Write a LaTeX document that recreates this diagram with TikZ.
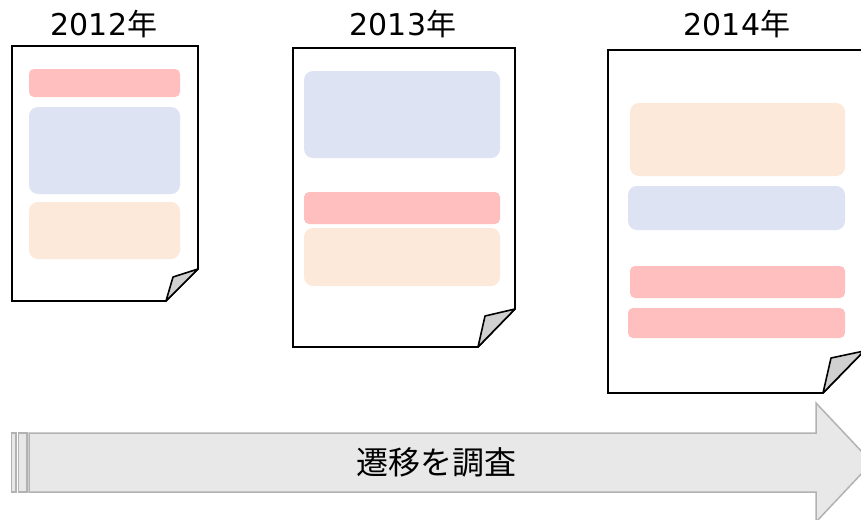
\documentclass[tikz,border=0pt]{standalone}
\usepackage{fontspec}
\setmainfont{DejaVu Sans}
\newfontfamily\cjk{Noto Sans CJK JP}
\definecolor{boxred}{RGB}{255,191,191}
\definecolor{boxblue}{RGB}{222,227,243}
\definecolor{boxorange}{RGB}{252,233,218}
\definecolor{flapgray}{RGB}{208,208,208}
\definecolor{arrfill}{RGB}{232,232,232}
\definecolor{arrline}{RGB}{178,178,178}
\tikzset{
  docpage/.style={draw=black, line width=1.6pt, fill=white, line join=miter},
  docflap/.style={draw=black, line width=1.6pt, fill=flapgray, line join=round},
  redbar/.style={fill=boxred, rounded corners=5pt},
  bluebox/.style={fill=boxblue, rounded corners=9pt},
  orangebox/.style={fill=boxorange, rounded corners=9pt},
  yearlabel/.style={font=\fontsize{30}{34}\selectfont, inner sep=0pt, anchor=center},
  arrshape/.style={draw=arrline, line width=1.5pt, fill=arrfill, line join=miter},
}
\begin{document}
\begin{tikzpicture}[x=1pt, y=-1pt]
\useasboundingbox (0,0) rectangle (861,519);
% titles
\node[yearlabel] (y1) at (104,24) {2012{\cjk 年}};
\node[yearlabel] (y2) at (403,24) {2013{\cjk 年}};
\node[yearlabel] (y3) at (737,24) {2014{\cjk 年}};
% document 1
\draw[docpage] (12,46) -- (198,46) -- (198,269) -- (166,301) -- (12,301) -- cycle;
\draw[docflap] (166,301) -- (173,277) -- (198,269) -- cycle;
\fill[redbar] (29,69) rectangle (180,97);
\fill[bluebox] (29,107) rectangle (180,194);
\fill[orangebox] (29,202) rectangle (180,259);
% document 2
\draw[docpage] (293,48) -- (515,48) -- (515,309) -- (478,347) -- (293,347) -- cycle;
\draw[docflap] (478,347) -- (485,316) -- (515,309) -- cycle;
\fill[bluebox] (304,71) rectangle (500,158);
\fill[redbar] (304,192) rectangle (500,224);
\fill[orangebox] (304,228) rectangle (500,286);
% document 3
\draw[docpage] (608,50) -- (864,50) -- (864,351) -- (823,393) -- (608,393) -- cycle;
\draw[docflap] (823,393) -- (831,358) -- (864,351) -- cycle;
\fill[orangebox] (630,103) rectangle (845,176);
\fill[bluebox] (628,186) rectangle (845,230);
\fill[redbar] (630,266) rectangle (845,298);
\fill[redbar] (628,308) rectangle (845,338);
% arrow
\draw[arrshape] (11.5,433) rectangle (16,492);
\draw[arrshape] (18.5,433) rectangle (27,492);
\draw[arrshape] (29,433) -- (816,433) -- (816,403) -- (872,462.5) -- (816,522) -- (816,492) -- (29,492) -- cycle;
\node[font=\cjk\fontsize{32}{36}\selectfont, inner sep=0pt] (lbl) at (436,462) {遷移を調査};
\end{tikzpicture}
\end{document}
